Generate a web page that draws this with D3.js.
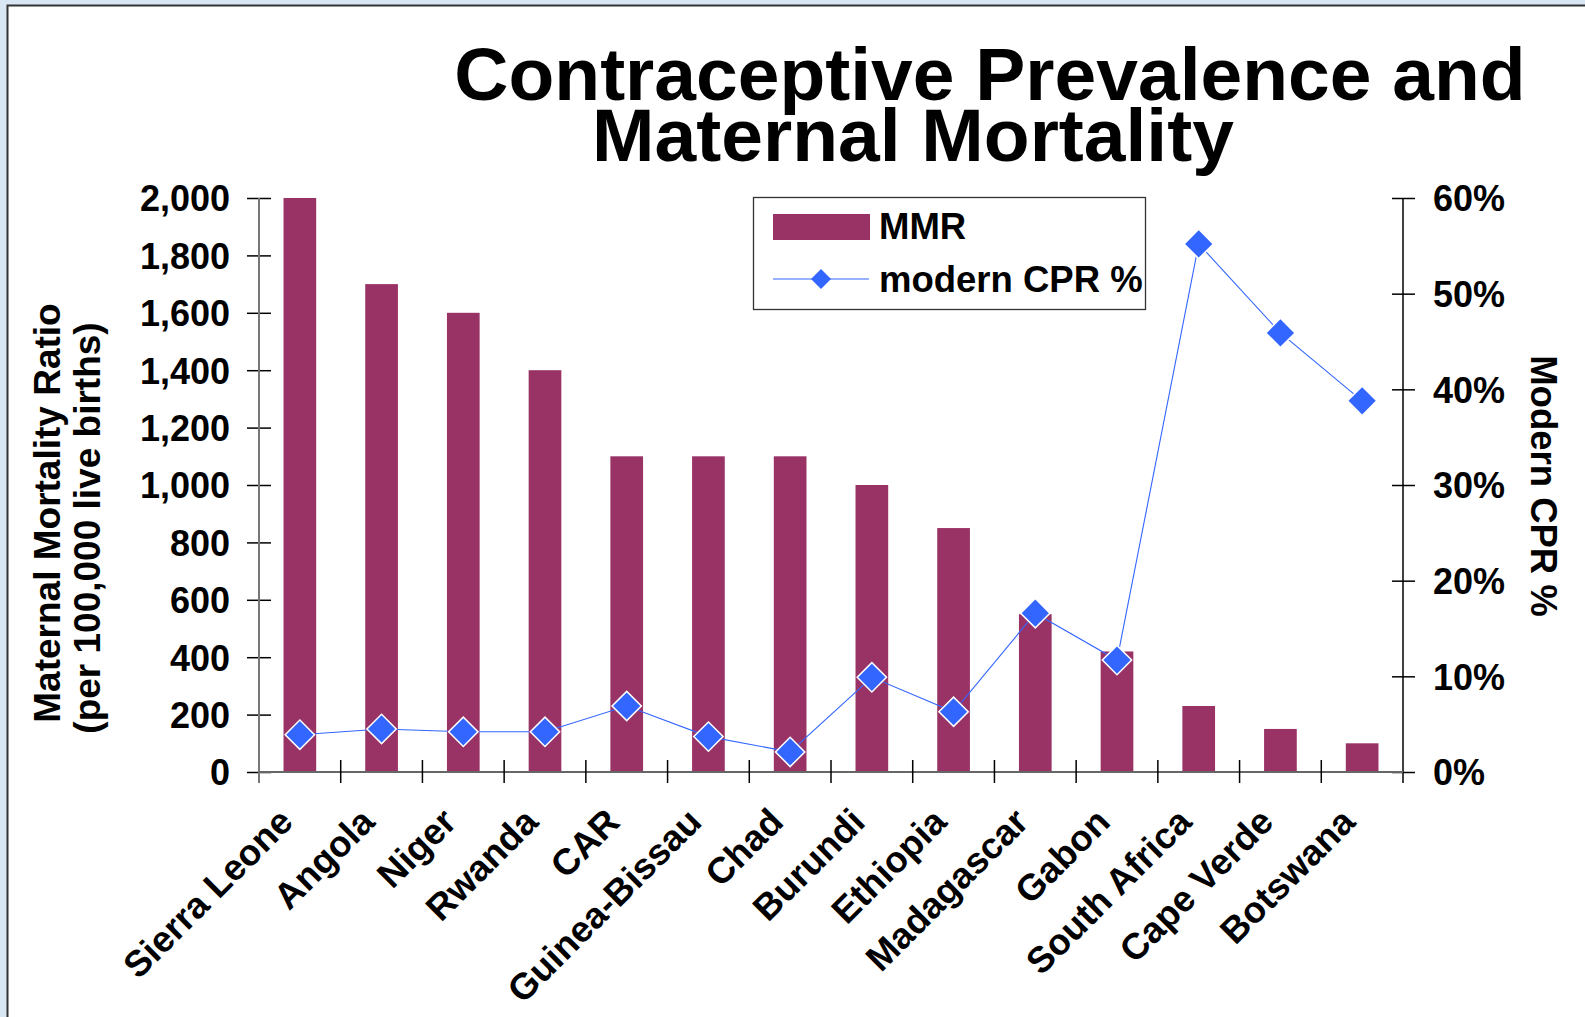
<!DOCTYPE html>
<html>
<head>
<meta charset="utf-8">
<script src="https://cdn.jsdelivr.net/npm/d3@7"></script>
<style>
  html, body { margin: 0; padding: 0; background: #d9e6f4; overflow: hidden; }
  svg { display: block; }
  text { font-family: "Liberation Sans", Arial, Helvetica, sans-serif; font-weight: bold; fill: #000; }
</style>
</head>
<body>
<svg id="chart" width="1585" height="1017"></svg>
<script>
// ---- data ----
const categories = ["Sierra Leone", "Angola", "Niger", "Rwanda", "CAR", "Guinea-Bissau", "Chad",
                    "Burundi", "Ethiopia", "Madagascar", "Gabon", "South Africa", "Cape Verde", "Botswana"];
const mmrValues = [2000, 1700, 1600, 1400, 1100, 1100, 1100, 1000, 850, 550, 420, 230, 150, 100];
const cprValues = [3.9, 4.5, 4.2, 4.2, 6.9, 3.7, 2.1, 9.9, 6.3, 16.6, 11.7, 55.2, 45.9, 38.8];
const mmrTicks = [0, 200, 400, 600, 800, 1000, 1200, 1400, 1600, 1800, 2000];
const cprTicks = [0, 10, 20, 30, 40, 50, 60];
const titleLines = ["Contraceptive Prevalence and", "Maternal Mortality"];
const leftTitleLines = ["Maternal Mortality Ratio", "(per 100,000 live births)"];
const rightTitle = "Modern CPR %";
const seriesNames = ["MMR", "modern CPR %"];

// ---- layout ----
const W = 1585, H = 1017;
const plot = { left: 259, right: 1403, top: 198, bottom: 772 };
const barColor = "#993366";
const lineColor = "#3366ff";

const svg = d3.select("#chart");

// slide panel
svg.append("rect").attr("x", 0).attr("y", 0).attr("width", W).attr("height", H).attr("fill", "#d9e6f4");
svg.append("rect").attr("x", 7.5).attr("y", 5.5).attr("width", W + 20).attr("height", H + 20)
  .attr("fill", "#ffffff").attr("stroke", "#333333").attr("stroke-width", 2);

// scales
const x = d3.scaleBand().domain(categories).range([plot.left, plot.right]).paddingInner(0.6).paddingOuter(0.3);
const yL = d3.scaleLinear().domain([0, 2000]).range([plot.bottom, plot.top]);
const yR = d3.scaleLinear().domain([0, 60]).range([plot.bottom, plot.top]);
const cx = c => x(c) + x.bandwidth() / 2;

// title
const titleG = svg.append("g");
titleG.append("text").attr("x", 990).attr("y", 100).attr("text-anchor", "middle")
  .attr("font-size", 75).text(titleLines[0]);
titleG.append("text").attr("x", 913).attr("y", 161).attr("text-anchor", "middle")
  .attr("font-size", 75).text(titleLines[1]);

// bars
svg.append("g").selectAll("rect").data(categories).join("rect")
  .attr("x", c => x(c))
  .attr("width", x.bandwidth())
  .attr("y", (c, i) => yL(mmrValues[i]))
  .attr("height", (c, i) => yL(0) - yL(mmrValues[i]))
  .attr("fill", barColor);

// left axis
const axL = svg.append("g").attr("transform", `translate(${plot.left},0)`)
  .call(d3.axisLeft(yL).tickValues(mmrTicks).tickFormat(d3.format(",")).tickSize(12).tickPadding(17));
axL.select(".domain").remove();
axL.selectAll(".tick line").attr("x1", -12).attr("x2", 12).attr("stroke", "#000").attr("stroke-width", 1.5);
axL.selectAll(".tick text").attr("font-size", 36).attr("font-family", "Liberation Sans, Arial, sans-serif")
  .attr("font-weight", "bold").attr("fill", "#000").attr("x", -29).attr("dy", "0.36em");
svg.append("line").attr("x1", plot.left).attr("x2", plot.left).attr("y1", plot.top).attr("y2", plot.bottom + 11)
  .attr("stroke", "#777").attr("stroke-width", 2);

// right axis
const axR = svg.append("g").attr("transform", `translate(${plot.right},0)`)
  .call(d3.axisRight(yR).tickValues(cprTicks).tickFormat(d => d + "%").tickSize(12).tickPadding(30));
axR.select(".domain").remove();
axR.selectAll(".tick line").attr("x1", -11).attr("x2", 12).attr("stroke", "#000").attr("stroke-width", 1.5);
axR.selectAll(".tick text").attr("font-size", 36).attr("font-family", "Liberation Sans, Arial, sans-serif")
  .attr("font-weight", "bold").attr("fill", "#000").attr("x", 30).attr("dy", "0.36em");
svg.append("line").attr("x1", plot.right).attr("x2", plot.right).attr("y1", plot.top).attr("y2", plot.bottom + 11)
  .attr("stroke", "#000").attr("stroke-width", 1.5);

// x axis
const axX = svg.append("g").attr("transform", `translate(0,${plot.bottom})`)
  .call(d3.axisBottom(x).tickSize(0).tickFormat(""));
axX.select(".domain").remove();
svg.append("line").attr("x1", plot.left).attr("x2", plot.right).attr("y1", plot.bottom).attr("y2", plot.bottom)
  .attr("stroke", "#666").attr("stroke-width", 2);
const boundaries = categories.map(c => cx(c) - x.step() / 2).concat([cx(categories[categories.length - 1]) + x.step() / 2]);
svg.append("g").selectAll("line").data(boundaries.slice(1, -1)).join("line")
  .attr("x1", d => d).attr("x2", d => d)
  .attr("y1", plot.bottom - 12).attr("y2", plot.bottom + 11)
  .attr("stroke", "#000").attr("stroke-width", 1.5);

// category labels
svg.append("g").selectAll("text").data(categories).join("text")
  .attr("transform", c => `translate(${cx(c) - 5},${plot.bottom + 52}) rotate(-45)`)
  .attr("text-anchor", "end")
  .attr("font-size", 36.5)
  .text(c => c);

// CPR line
const line = d3.line().x((d, i) => cx(categories[i])).y(d => yR(d));
svg.append("path").datum(cprValues).attr("d", line)
  .attr("fill", "none").attr("stroke", lineColor).attr("stroke-width", 1.1);
const diamond = d3.symbol().type(d3.symbolSquare).size(430);
svg.append("g").selectAll("path").data(cprValues).join("path")
  .attr("transform", (d, i) => `translate(${cx(categories[i])},${yR(d)}) rotate(45)`)
  .attr("d", diamond)
  .attr("fill", lineColor).attr("stroke", "#ffffff").attr("stroke-width", 1.5);

// left axis title
const leftTitlePos = [[60, 513], [100, 528]];
leftTitleLines.forEach((t, i) => {
  svg.append("text")
    .attr("transform", `translate(${leftTitlePos[i][0]},${leftTitlePos[i][1]}) rotate(-90)`)
    .attr("text-anchor", "middle").attr("font-size", 37).text(t);
});

// right axis title
svg.append("text").attr("transform", "translate(1531,486) rotate(90)")
  .attr("text-anchor", "middle").attr("font-size", 36.5).text(rightTitle);

// legend
const lg = svg.append("g");
lg.append("rect").attr("x", 753.5).attr("y", 197.5).attr("width", 392).attr("height", 112)
  .attr("fill", "#fff").attr("stroke", "#333").attr("stroke-width", 1.3);
lg.append("rect").attr("x", 773).attr("y", 214).attr("width", 97).attr("height", 26).attr("fill", barColor);
lg.append("text").attr("x", 879).attr("y", 239).attr("font-size", 36.5).text(seriesNames[0]);
lg.append("line").attr("x1", 773).attr("x2", 869).attr("y1", 279).attr("y2", 279)
  .attr("stroke", lineColor).attr("stroke-width", 1.2);
lg.append("path").attr("transform", "translate(821,279) rotate(45)")
  .attr("d", d3.symbol().type(d3.symbolSquare).size(200)).attr("fill", lineColor);
lg.append("text").attr("x", 879).attr("y", 292).attr("font-size", 36.5).text(seriesNames[1]);
</script>
</body>
</html>
